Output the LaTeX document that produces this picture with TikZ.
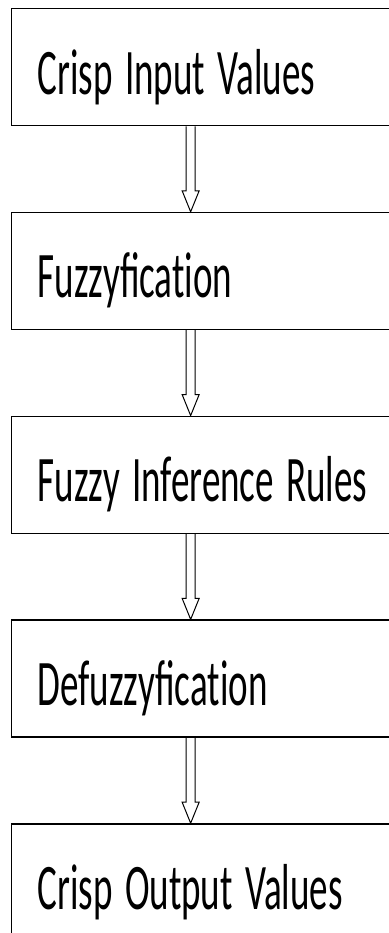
\documentclass[tikz,border=0pt]{standalone}
\usepackage{fontspec}
\usepackage{graphicx}
\newfontfamily\stagefont{Carlito}
\usetikzlibrary{positioning,calc}

% narrow, tall lettering of the stages
\newcommand\squeeze[1]{\scalebox{0.57}[1]{#1}}

\tikzset{
  stage/.style={draw, line width=1.3pt, anchor=north west,
    minimum width=382pt, minimum height=117pt,
    text width=330pt, inner xsep=26pt, align=left,
    text height=60pt, text depth=6pt,
    font=\stagefont\fontsize{65}{70}\selectfont},
  flow/.style={line width=1pt, line join=miter}
}

% hollow double-line arrow from one stage to the next
\newcommand\hollowdown[2]{%
  \draw[flow] ($(#1.south)+(-16.5,0)$) -- ($(#2.north)+(-16.5,21)$)
    -- ($(#2.north)+(-20.5,21)$) -- ($(#2.north)+(-12,0)$)
    -- ($(#2.north)+(-3.5,21)$) -- ($(#2.north)+(-7.5,21)$)
    -- ($(#1.south)+(-7.5,0)$);}

\begin{document}
\begin{tikzpicture}[x=1pt, y=1pt, node distance=85.5pt]
  \useasboundingbox (0,0) rectangle (388,-933);
  % Stages
  \node[stage, inner xsep=19pt] (input) at (11,-8) {\squeeze{Crisp Input Values}};
  \node[stage, below=of input] (fuzzify) {\squeeze{Fuzzyficat\kern0pt ion}};
  \node[stage, below=of fuzzify] (rules) {\squeeze{Fuzzy Inference Rules}};
  \node[stage, below=of rules] (defuzzify) {\squeeze{Defuzzyficat\kern0pt ion}};
  \node[stage, below=of defuzzify] (output) {\squeeze{Crisp Output Values}};
  % Arrows
  \hollowdown{input}{fuzzify}
  \hollowdown{fuzzify}{rules}
  \hollowdown{rules}{defuzzify}
  \hollowdown{defuzzify}{output}
\end{tikzpicture}
\end{document}
